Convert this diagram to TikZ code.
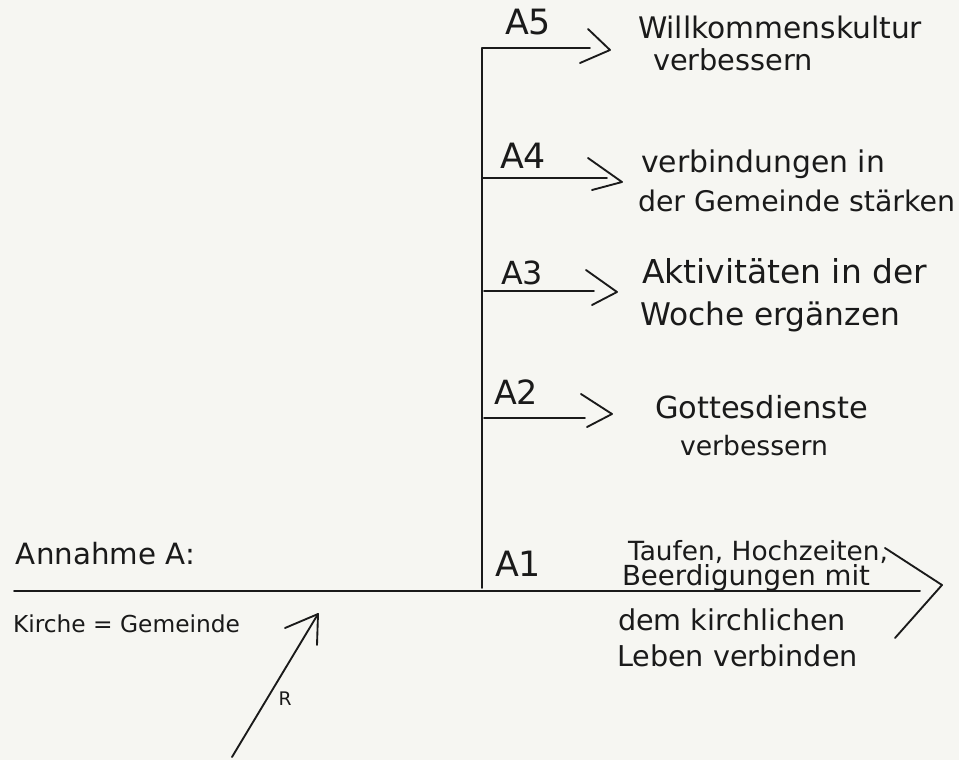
\documentclass[tikz,border=0pt]{standalone}
\usepackage{fontspec}
\setmainfont{DejaVu Sans}
\usepackage{graphicx}
\newlength{\pxu}\setlength{\pxu}{0.75pt}
\newcommand{\hw}[2]{\resizebox{#1\pxu}{!}{#2}}
\definecolor{paper}{HTML}{F6F6F2}
\definecolor{ink}{HTML}{1A1A1A}
\tikzset{
  ink line/.style={draw=ink, line width=1.4pt, line cap=round, line join=round},
  txt/.style={anchor=base west, inner sep=0pt, outer sep=0pt, text=ink},
  lbl/.style={anchor=base, inner sep=0pt, outer sep=0pt, text=ink}
}
\begin{document}
\begin{tikzpicture}[x=0.75pt, y=-0.75pt]
\fill[paper] (0,0) rectangle (959,760);
\useasboundingbox (0,0) rectangle (959,760);

% main line
\coordinate (mainL) at (14,591);
\coordinate (mainR) at (920,591);
\coordinate (bigT) at (885,548);
\coordinate (bigTip) at (942,585);
\coordinate (bigB) at (895,638);
\draw[ink line] (mainL) -- (mainR);
\draw[ink line] (bigT) -- (bigTip) -- (bigB);

% spine
\coordinate (spB) at (482,588);
\coordinate (sp5) at (482,48);
\draw[ink line] (spB) -- (sp5);

% A5
\coordinate (e5) at (590,48);
\draw[ink line] (sp5) -- (e5);
\draw[ink line] (588,29) -- (610,50) -- (580,63);
% A4
\coordinate (s4) at (482,178);
\coordinate (e4) at (607,178);
\draw[ink line] (s4) -- (e4);
\draw[ink line] (588,158) -- (622,182) -- (592,190);
% A3
\coordinate (s3) at (484,291);
\coordinate (e3) at (594,291);
\draw[ink line] (s3) -- (e3);
\draw[ink line] (586,270) -- (617,292) -- (592,305);
% A2
\coordinate (s2) at (484,418);
\coordinate (e2) at (585,418);
\draw[ink line] (s2) -- (e2);
\draw[ink line] (581,394) -- (612,414) -- (587,427);

% labels on branches
\node[lbl] (lA5) at (528,34) {\hw{46}{A5}};
\node[lbl] (lA4) at (523,168) {\hw{46}{A4}};
\node[lbl] (lA3) at (522,284) {\hw{42}{A3}};
\node[lbl] (lA2) at (516,404) {\hw{44}{A2}};
\node[lbl] (lA1) at (518,576) {\hw{46}{A1}};

% texts
\node[txt] (t5a) at (638,38) {\hw{284}{Willkommenskultur}};
\node[txt] (t5b) at (653,70) {\hw{160}{verbessern}};
\node[txt] (t4a) at (641,172) {\hw{244}{verbindungen in}};
\node[txt] (t4b) at (638,211) {\hw{317}{der Gemeinde stärken}};
\node[txt] (t3a) at (642,283) {\hw{285}{Aktivitäten in der}};
\node[txt] (t3b) at (640,325) {\hw{260}{Woche ergänzen}};
\node[txt] (t2a) at (655,418) {\hw{213}{Gottesdienste}};
\node[txt] (t2b) at (680,455) {\hw{148}{verbessern}};
\node[txt] (t1a) at (628,560) {\hw{260}{Taufen, Hochzeiten,}};
\node[txt] (t1b) at (622,585) {\hw{248}{Beerdigungen mit}};
\node[txt] (t1c) at (618,630) {\hw{228}{dem kirchlichen}};
\node[txt] (t1d) at (617,666) {\hw{241}{Leben verbinden}};
\node[txt] (tAn) at (16,564) {\hw{179}{Annahme A:}};
\node[txt] (tKi) at (13,632) {\hw{227}{Kirche = Gemeinde}};

% arrow R
\coordinate (rS) at (232,757);
\coordinate (rE) at (318,614);
\draw[ink line] (rS) -- (rE);
\draw[ink line] (285,628) -- (rE) -- (317,645);
\node[lbl] (lR) at (285,705) {\hw{13}{R}};
\end{tikzpicture}
\end{document}
